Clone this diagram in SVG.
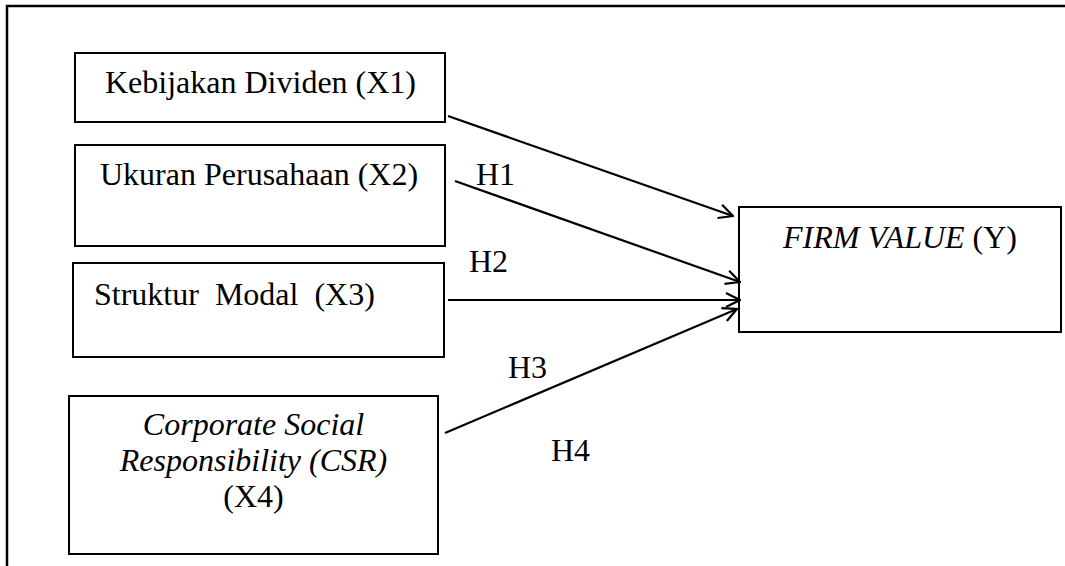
<svg xmlns="http://www.w3.org/2000/svg" width="1065" height="566" viewBox="0 0 1065 566">
<style>
.box{fill:#fff;stroke:#000;stroke-width:2}
.t{font-family:"Liberation Serif","Times New Roman",serif;font-size:32px;fill:#000}
.i{font-style:italic}
.c{stroke:#000;stroke-width:2.2;fill:none}
</style>
<defs>
<marker id="ah" viewBox="0 0 16 16" refX="15" refY="8" markerWidth="16" markerHeight="16" markerUnits="userSpaceOnUse" orient="auto">
<path d="M1,1 L15,8 L1,15" fill="none" stroke="#000" stroke-width="2.2"/>
</marker>
</defs>
<rect width="1065" height="566" fill="#fff"/>
<path d="M7,566 V6 H1065" fill="none" stroke="#000" stroke-width="2.5"/>
<g id="x1">
<rect class="box" x="75" y="53" width="370" height="69"/>
<text class="t" x="105" y="93">Kebijakan Dividen (X1)</text>
</g>
<g id="x2">
<rect class="box" x="75" y="145" width="370" height="101"/>
<text class="t" x="100" y="185">Ukuran Perusahaan (X2)</text>
</g>
<g id="x3">
<rect class="box" x="73" y="263" width="371" height="94"/>
<text class="t" x="94" y="305" xml:space="preserve" style="white-space:pre">Struktur  Modal  (X3)</text>
</g>
<g id="x4">
<rect class="box" x="69" y="396" width="369" height="158"/>
<text class="t i" x="253.5" y="435" text-anchor="middle">Corporate Social</text>
<text class="t i" x="253.5" y="471" text-anchor="middle">Responsibility (CSR)</text>
<text class="t" x="253.5" y="507" text-anchor="middle">(X4)</text>
</g>
<g id="y">
<rect class="box" x="739" y="207" width="322" height="125"/>
<text class="t" x="900" y="248" text-anchor="middle"><tspan class="i">FIRM VALUE</tspan> (Y)</text>
</g>
<g id="connectors">
<line class="c" x1="448" y1="116" x2="733" y2="216" marker-end="url(#ah)"/>
<line class="c" x1="455" y1="181" x2="740" y2="282" marker-end="url(#ah)"/>
<line class="c" x1="448" y1="300" x2="740" y2="300" marker-end="url(#ah)"/>
<line class="c" x1="445" y1="433" x2="737" y2="309" marker-end="url(#ah)"/>
</g>
<g id="labels">
<text class="t" x="476" y="185">H1</text>
<text class="t" x="469" y="272">H2</text>
<text class="t" x="508" y="378">H3</text>
<text class="t" x="551" y="461">H4</text>
</g>
</svg>
